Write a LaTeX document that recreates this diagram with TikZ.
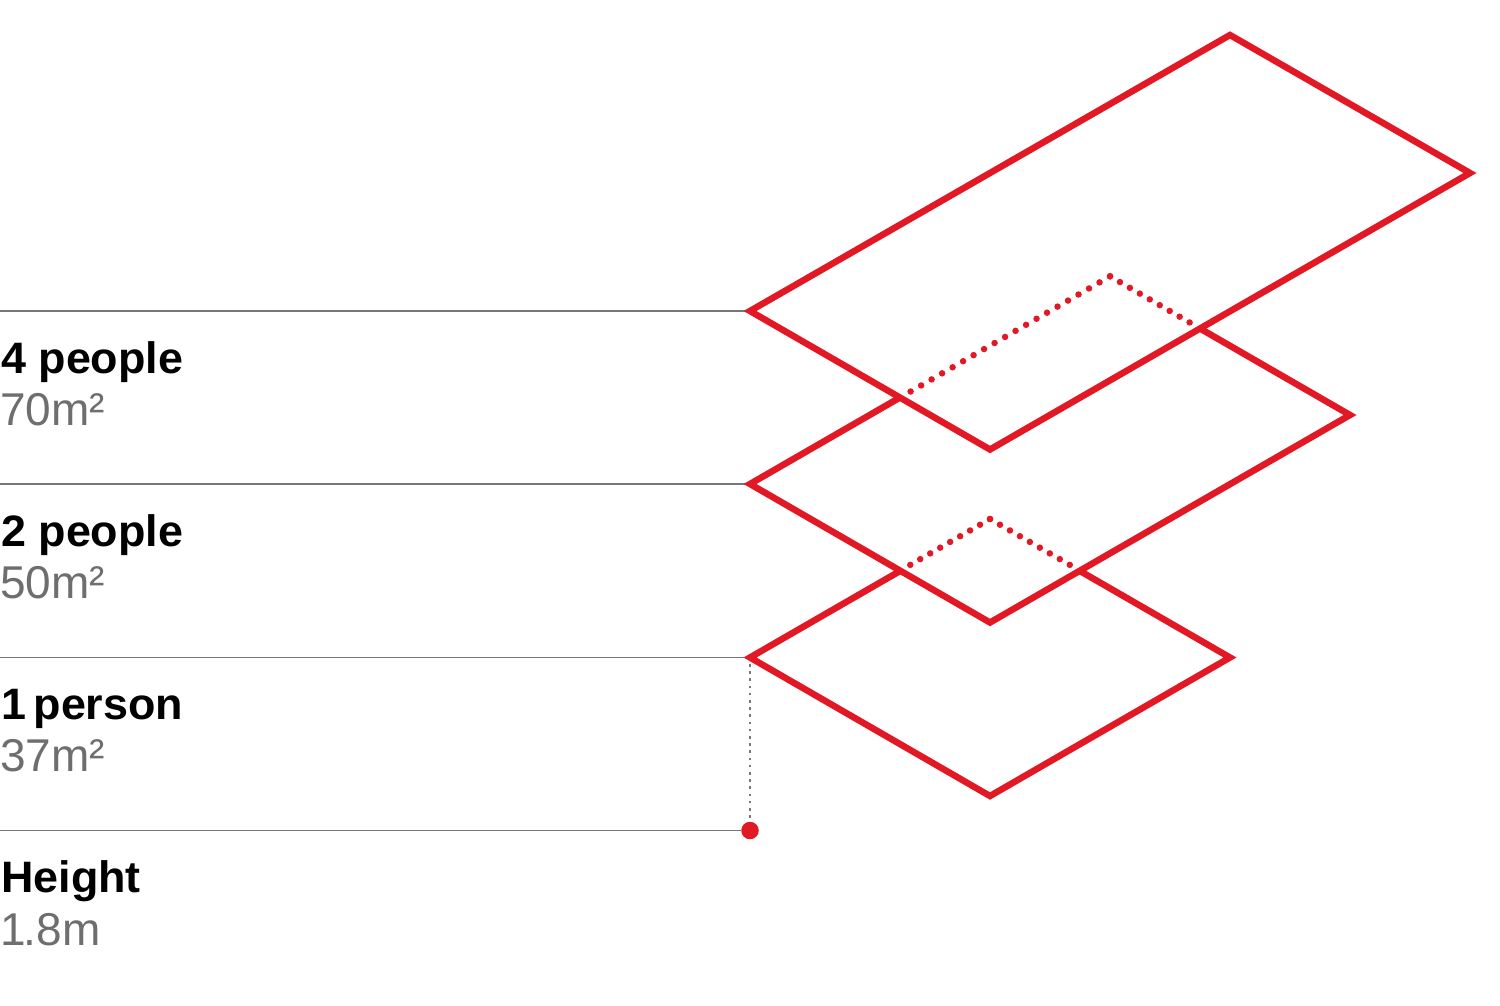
\documentclass[tikz,border=0pt]{standalone}
\usepackage{fontspec}
\setmainfont{Liberation Sans}
\newfontfamily\headfont[FakeStretch=1.02]{Liberation Sans Bold}
\definecolor{planred}{HTML}{E31825}
\definecolor{rulegrey}{HTML}{777777}
\definecolor{subgrey}{HTML}{6E6E6E}
\tikzset{
  plan/.style={draw=planred,line width=6.5pt,line join=miter,miter limit=10},
  hiddenlong/.style={draw=planred,line width=6.5pt,line cap=round,dash pattern=on 0pt off 12.12pt},
  hiddenshort/.style={draw=planred,line width=6.5pt,line cap=round,dash pattern=on 0pt off 11.5pt},
  rulel/.style={draw=rulegrey,line width=1.4pt},
  drop/.style={draw=rulegrey,line width=2.6pt,dash pattern=on 2.6pt off 4.6pt},
  head/.style={anchor=base west,inner sep=0pt,font=\fontsize{44}{44}\headfont,text=black},
  sub/.style={anchor=base west,inner sep=0pt,font=\fontsize{46}{46}\selectfont,text=subgrey},
}
\begin{document}
\begin{tikzpicture}[x=1pt,y=-1pt]
\useasboundingbox (0,0) rectangle (1500,1005);
% anchors
\coordinate (aL) at (750,311);
\coordinate (aT) at (1230,35);
\coordinate (aR) at (1470,173);
\coordinate (aB) at (990,449.5);
\coordinate (bL) at (750,484);
\coordinate (bT) at (1110,276.3);
\coordinate (bR) at (1350,415);
\coordinate (bB) at (990,622.5);
\coordinate (bJ1) at (900,397.5);
\coordinate (bJ2) at (1200,328.5);
\coordinate (bD1) at (910.3,391.7);
\coordinate (bD2) at (1190,322.7);
\coordinate (cL) at (750,657.5);
\coordinate (cT) at (990,519);
\coordinate (cR) at (1230,657.5);
\coordinate (cB) at (990,796);
\coordinate (cJ1) at (900,571);
\coordinate (cJ2) at (1080,571);
\coordinate (cD1) at (910,565);
\coordinate (cD2) at (1070,565);
\coordinate (r1) at (0,311);
\coordinate (r2) at (0,484);
\coordinate (r3) at (0,657.5);
\coordinate (r4) at (0,830.5);
\coordinate (dropTop) at (750,664);
\coordinate (dropEnd) at (750,818);
\node[circle,fill=planred,inner sep=0pt,minimum size=17.5pt] (dot) at (750,830.5) {};
% rules
\draw[rulel] (r1) -- (aL);
\draw[rulel] (r2) -- (bL);
\draw[rulel] (r3) -- (cL);
\draw[rulel] (r4) -- (dot);
\draw[drop] (dropTop) -- (dropEnd);
% planes
\draw[plan] (aL) -- (aT) -- (aR) -- (aB) -- cycle;
\draw[plan] (bJ1) -- (bL) -- (bB) -- (bR) -- (bJ2);
\draw[plan] (cJ1) -- (cL) -- (cB) -- (cR) -- (cJ2);
\draw[hiddenlong] (bT) -- (bD1);
\draw[hiddenshort] (bT) -- (bD2);
\draw[hiddenshort] (cT) -- (cD1);
\draw[hiddenshort] (cT) -- (cD2);
% labels
\node[head] (h1) at (1,373) {4 people};
\node[sub] (s1) at (0,425) {70m²};
\node[head] (h2) at (1,546) {2 people};
\node[sub] (s2) at (0,598) {50m²};
\node[head] (h3) at (1,719.5) {1\kern-5pt\ person};
\node[sub] (s3) at (0,771.5) {37m²};
\node[head] (h4) at (1,892.5) {Height};
\node[sub] (s4) at (0,945) {1\kern-2pt.8m};
\end{tikzpicture}
\end{document}
